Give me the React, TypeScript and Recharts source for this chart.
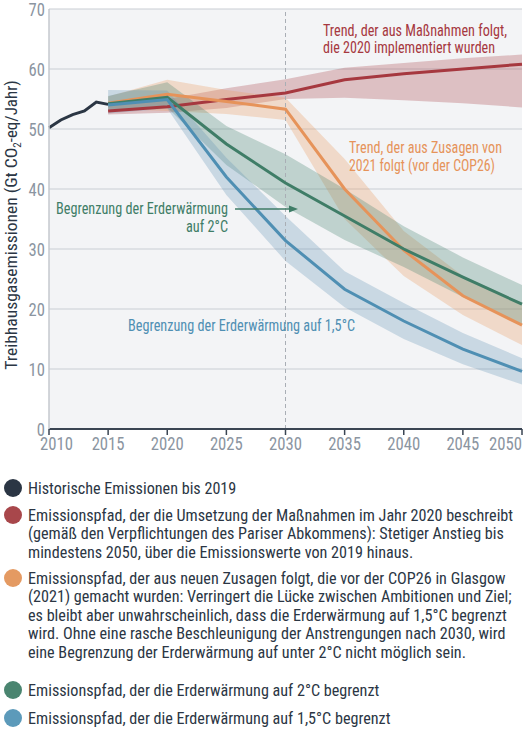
import React from 'react';
import {
  ComposedChart,
  Line,
  Area,
  XAxis,
  YAxis,
  CartesianGrid,
  ReferenceLine,
} from 'recharts';

const FONT = '"Roboto Condensed", "Arial Narrow", Roboto, sans-serif';

// years on the x axis
const histYears = [2010, 2011, 2012, 2013, 2014, 2015];
const histValues = [50.2, 51.5, 52.4, 53.0, 54.5, 54.1];

const pathYears = [2015, 2020, 2025, 2030, 2035, 2040, 2045, 2050];

// Trend, der aus Maßnahmen folgt (2020)
const policies = [53.0, 53.7, 54.9, 56.0, 58.2, 59.2, 60.0, 60.8];
const policiesLow = [52.4, 52.7, 53.5, 55.0, 55.2, 54.8, 54.3, 53.6];
const policiesHigh = [53.8, 55.0, 56.8, 58.3, 60.2, 61.0, 61.8, 62.4];

// Trend aus Zusagen 2021
const pledges = [54.3, 55.8, 54.6, 53.3, 40.0, 29.8, 22.2, 17.3];
const pledgesLow = [53.4, 53.0, 52.5, 51.5, 35.0, 25.5, 19.0, 14.0];
const pledgesHigh = [55.4, 58.2, 56.5, 55.2, 45.0, 33.0, 25.5, 21.0];

// 2°C
const twoDeg = [54.2, 55.3, 47.5, 41.0, 35.5, 30.0, 25.3, 20.8];
const twoDegLow = [53.0, 53.6, 44.0, 37.0, 31.5, 27.0, 22.0, 17.4];
const twoDegHigh = [55.5, 57.8, 50.5, 45.8, 40.0, 33.8, 28.6, 24.0];

// 1,5°C
const oneFive = [54.0, 54.9, 42.0, 31.4, 23.3, 18.0, 13.3, 9.6];
const oneFiveLow = [52.6, 53.4, 39.0, 28.0, 20.3, 15.0, 10.8, 7.4];
const oneFiveHigh = [56.5, 56.4, 45.2, 35.5, 26.3, 21.0, 16.0, 11.8];

const xTicks = [2010, 2015, 2020, 2025, 2030, 2035, 2040, 2045, 2050];
const yTicks = [0, 10, 20, 30, 40, 50, 60, 70];

const COLORS = {
  hist: '#2b3644',
  red: '#a6383f',
  orange: '#e6935a',
  green: '#3f7d67',
  blue: '#4f8fb3',
};

type Row = { year: number; [k: string]: number | number[] | null };

const allYears = Array.from(new Set([...histYears, ...pathYears])).sort((a, b) => a - b);
const data: Row[] = allYears.map((year) => {
  const hi = histYears.indexOf(year);
  const pi = pathYears.indexOf(year);
  const row: Row = { year };
  row.hist = hi >= 0 ? histValues[hi] : null;
  const ok = pi >= 0;
  row.policies = ok ? policies[pi] : null;
  row.policiesBand = ok ? [policiesLow[pi], policiesHigh[pi]] : null;
  row.pledges = ok ? pledges[pi] : null;
  row.pledgesBand = ok ? [pledgesLow[pi], pledgesHigh[pi]] : null;
  row.twoDeg = ok ? twoDeg[pi] : null;
  row.twoDegBand = ok ? [twoDegLow[pi], twoDegHigh[pi]] : null;
  row.oneFive = ok ? oneFive[pi] : null;
  row.oneFiveBand = ok ? [oneFiveLow[pi], oneFiveHigh[pi]] : null;
  return row;
});

// y = centre of the first text line
const legendItems = [
  {
    color: COLORS.hist,
    y: 488,
    lines: ['Historische Emissionen bis 2019'],
  },
  {
    color: '#a8474b',
    y: 515,
    lines: [
      'Emissionspfad, der die Umsetzung der Maßnahmen im Jahr 2020 beschreibt',
      '(gemäß den Verpflichtungen des Pariser Abkommens): Stetiger Anstieg bis',
      'mindestens 2050, über die Emissionswerte von 2019 hinaus.',
    ],
  },
  {
    color: '#e49a62',
    y: 578,
    lines: [
      'Emissionspfad, der aus neuen Zusagen folgt, die vor der COP26 in Glasgow',
      '(2021) gemacht wurden: Verringert die Lücke zwischen Ambitionen und Ziel;',
      'es bleibt aber unwahrscheinlich, dass die Erderwärmung auf 1,5°C begrenzt',
      'wird. Ohne eine rasche Beschleunigung der Anstrengungen nach 2030, wird',
      'eine Begrenzung der Erderwärmung auf unter 2°C nicht möglich sein.',
    ],
  },
  {
    color: '#4a8570',
    y: 690,
    lines: ['Emissionspfad, der die Erderwärmung auf 2°C begrenzt'],
  },
  {
    color: '#5c9aba',
    y: 718,
    lines: ['Emissionspfad, der die Erderwärmung auf 1,5°C begrenzt'],
  },
];

const XTick = (props: any) => {
  const { x, y, payload } = props;
  const v = payload.value;
  let anchor: 'middle' | 'start' | 'end' = 'middle';
  let tx = x;
  if (v === 2010) {
    anchor = 'start';
    tx = x - 9;
  } else if (v === 2050) {
    anchor = 'end';
    tx = x;
  }
  return (
    <text
      x={tx}
      y={y + 13}
      textAnchor={anchor}
      fontSize={18}
      fontFamily={FONT}
      fill="#8b95a1"
      textLength={33}
      lengthAdjust="spacingAndGlyphs"
    >
      {v}
    </text>
  );
};

const YTick = (props: any) => {
  const { y, payload } = props;
  const s = String(payload.value);
  return (
    <text
      x={45}
      y={y + 6.5}
      textAnchor="end"
      fontSize={18}
      fontFamily={FONT}
      fill="#8b95a1"
      textLength={s.length * 8.2}
      lengthAdjust="spacingAndGlyphs"
    >
      {s}
    </text>
  );
};

const Annotations = () => (
  <svg
    width={525}
    height={470}
    style={{ position: 'absolute', left: 0, top: 0, pointerEvents: 'none' }}
    fontFamily={FONT}
  >
    <text
      x={17}
      y={225}
      transform="rotate(-90 17 225)"
      textAnchor="middle"
      fontSize={17}
      fill="#2b3644"
    >
      <tspan textLength={222} lengthAdjust="spacingAndGlyphs">Treibhausgasemissionen (Gt CO</tspan>
      <tspan fontSize={11} dy={4}>2</tspan>
      <tspan dy={-4} textLength={62} lengthAdjust="spacingAndGlyphs">-eq/Jahr)</tspan>
    </text>

    <text fontSize={17} fill={COLORS.red}>
      <tspan x={323} y={36} textLength={184} lengthAdjust="spacingAndGlyphs">Trend, der aus Maßnahmen folgt,</tspan>
      <tspan x={323} y={53} textLength={172} lengthAdjust="spacingAndGlyphs">die 2020 implementiert wurden</tspan>
    </text>

    <text fontSize={17} fill={COLORS.orange}>
      <tspan x={349} y={153} textLength={153} lengthAdjust="spacingAndGlyphs">Trend, der aus Zusagen von</tspan>
      <tspan x={349} y={171} textLength={146} lengthAdjust="spacingAndGlyphs">2021 folgt (vor der COP26)</tspan>
    </text>

    <text fontSize={17} fill={COLORS.green}>
      <tspan x={56} y={214} textLength={172} lengthAdjust="spacingAndGlyphs">Begrenzung der Erderwärmung</tspan>
      <tspan x={186} y={232} textLength={42} lengthAdjust="spacingAndGlyphs">auf 2°C</tspan>
    </text>
    <line x1={235} y1={209} x2={291} y2={209} stroke={COLORS.green} strokeWidth={1.5} />
    <polygon points="298,209 289,205.5 289,212.5" fill={COLORS.green} />

    <text x={128} y={331} fontSize={17} fill={COLORS.blue} textLength={227} lengthAdjust="spacingAndGlyphs">
      Begrenzung der Erderwärmung auf 1,5°C
    </text>
  </svg>
);

const LEGEND_SCALE = 0.95;

const Legend = () => (
  <svg
    width={525}
    height={749}
    style={{ position: 'absolute', left: 0, top: 0 }}
    fontFamily={FONT}
  >
    {legendItems.map((item, i) => (
      <g key={i}>
        <circle cx={13} cy={item.y} r={9} fill={item.color} />
        <g transform={`translate(28 ${item.y}) scale(${LEGEND_SCALE} 1)`}>
          {item.lines.map((l, j) => (
            <text key={j} x={0} y={j * 18.5 + 6} fontSize={17} fill="#2b3644">
              {l}
            </text>
          ))}
        </g>
      </g>
    ))}
  </svg>
);

export default function App() {
  return (
    <div style={{ position: 'absolute', left: 0, top: 0, width: 525, height: 749, background: '#fff', overflow: 'hidden' }}>
      <ComposedChart
        width={525}
        height={470}
        data={data}
        margin={{ top: 9, right: 3, bottom: 0, left: 0 }}
      >
        <CartesianGrid
          vertical={false}
          stroke="#c9cdd3"
          strokeWidth={1.2}
          fill="#f3f4f6"
          horizontalValues={yTicks}
        />
        <XAxis
          dataKey="year"
          type="number"
          domain={[2010, 2050]}
          ticks={xTicks}
          height={41}
          axisLine={{ stroke: '#3a4553', strokeWidth: 2 }}
          tickLine={{ stroke: '#3a4553', strokeWidth: 1.5 }}
          tickSize={6}
          tick={<XTick />}
          interval={0}
        />
        <YAxis
          type="number"
          domain={[0, 70]}
          ticks={yTicks}
          width={49}
          axisLine={{ stroke: '#c4c8ce', strokeWidth: 1.5 }}
          tickLine={false}
          tickSize={0}
          tick={<YTick />}
          interval={0}
        />
        <ReferenceLine x={2030} stroke="#a9aeb5" strokeDasharray="4 3" strokeWidth={1} />

        <Area dataKey="policiesBand" stroke="none" fill="#a6383f" fillOpacity={0.28} isAnimationActive={false} />
        <Area dataKey="pledgesBand" stroke="none" fill="#eb9a5f" fillOpacity={0.3} isAnimationActive={false} />
        <Area dataKey="twoDegBand" stroke="none" fill="#4a8570" fillOpacity={0.3} isAnimationActive={false} />
        <Area dataKey="oneFiveBand" stroke="none" fill="#5c8fb5" fillOpacity={0.28} isAnimationActive={false} />

        <Line dataKey="hist" stroke={COLORS.hist} strokeWidth={3} dot={false} isAnimationActive={false} />
        <Line dataKey="policies" stroke={COLORS.red} strokeWidth={3} dot={false} isAnimationActive={false} />
        <Line dataKey="pledges" stroke={COLORS.orange} strokeWidth={3} dot={false} isAnimationActive={false} />
        <Line dataKey="twoDeg" stroke={COLORS.green} strokeWidth={3} dot={false} isAnimationActive={false} />
        <Line dataKey="oneFive" stroke={COLORS.blue} strokeWidth={3} dot={false} isAnimationActive={false} />
      </ComposedChart>
      <Annotations />
      <Legend />
    </div>
  );
}
